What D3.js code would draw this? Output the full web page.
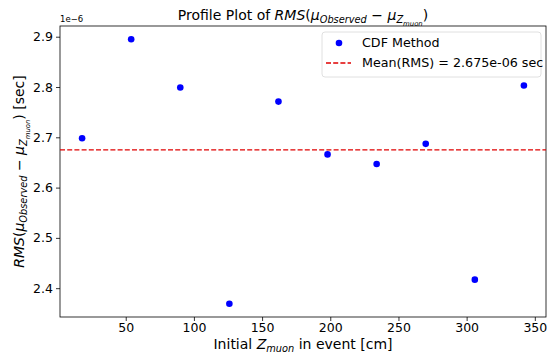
<!DOCTYPE html>
<html>
<head>
<meta charset="utf-8">
<script src="https://cdn.jsdelivr.net/npm/d3@7"></script>
<style>
  body { margin: 0; background: #fff; }
  svg { font-family: "DejaVu Sans", sans-serif; }
</style>
</head>
<body>
<svg id="chart" width="552" height="354"></svg>
<script>
// bin centres along Z and the RMS per bin (units of 1e-6 s)
const zCenters = [18, 54, 90, 126, 162, 198, 234, 270, 306, 342];
const rmsValues = [2.698, 2.895, 2.799, 2.369, 2.771, 2.666, 2.647, 2.687, 2.417, 2.803];
const meanRms = 2.675;
const xTicks = [50, 100, 150, 200, 250, 300, 350];
const yTicks = [2.4, 2.5, 2.6, 2.7, 2.8, 2.9];
const legendLabels = ["CDF Method", "Mean(RMS) = 2.675e-06 sec"];

const svg = d3.select( "#chart" );
const m = { left: 60, right: 546, top: 26, bottom: 317 };

// matplotlib-like 5% margins
const pad = ( ext ) => { const s = ext[1] - ext[0]; return [ ext[0] - s * 0.05, ext[1] + s * 0.05 ]; };

const x = d3.scaleLinear().domain( pad( d3.extent( zCenters ) ) ).range( [ m.left, m.right ] );
const y = d3.scaleLinear().domain( pad( d3.extent( rmsValues ) ) ).range( [ m.bottom, m.top ] );

// small helper for mathtext-ish labels: segments of [text, italic, level]
const richText = ( sel, parts, size ) => {
    let off = 0;
    parts.forEach( ( [ t, it, lvl ] ) => {
        const fs = size * Math.pow( 0.7, lvl || 0 );
        const target = ( lvl || 0 ) * size * 0.22;
        sel.append( "tspan" )
            .attr( "dy", target - off )
            .attr( "font-size", fs )
            .attr( "font-style", it ? "italic" : "normal" )
            .text( t );
        off = target;
    } );
    if ( off ) sel.append( "tspan" ).attr( "dy", -off ).text( "" );
};

const xAxis = svg.append( "g" )
    .attr( "transform", `translate(0,${m.bottom})` )
    .call( d3.axisBottom( x ).tickValues( xTicks ).tickSize( 4 ).tickPadding( 2 ) );
const yAxis = svg.append( "g" )
    .attr( "transform", `translate(${m.left},0)` )
    .call( d3.axisLeft( y ).tickValues( yTicks ).tickFormat( d3.format( ".1f" ) ).tickSize( 4 ).tickPadding( 3 ) );

[ xAxis, yAxis ].forEach( g => {
    g.select( ".domain" ).remove();
    g.selectAll( "text" ).attr( "font-size", 12.5 ).attr( "fill", "#000" ).attr( "font-family", "DejaVu Sans" );
    g.selectAll( "line" ).attr( "stroke", "#000" ).attr( "stroke-width", 0.8 );
} );

// frame
svg.append( "rect" )
    .attr( "x", m.left ).attr( "y", m.top )
    .attr( "width", m.right - m.left ).attr( "height", m.bottom - m.top )
    .attr( "fill", "none" ).attr( "stroke", "#000" ).attr( "stroke-width", 0.8 );

// mean line
svg.append( "line" )
    .attr( "x1", m.left ).attr( "x2", m.right )
    .attr( "y1", y( meanRms ) ).attr( "y2", y( meanRms ) )
    .attr( "stroke", "#e00000" ).attr( "stroke-width", 1.3 )
    .attr( "stroke-dasharray", "5,2.2" );

// points
svg.append( "g" ).selectAll( "circle" )
    .data( zCenters )
    .enter()
    .append( "circle" )
    .attr( "cx", d => x( d ) )
    .attr( "cy", ( d, i ) => y( rmsValues[i] ) )
    .attr( "r", 3.3 )
    .attr( "fill", "#0000ff" );

// offset text
svg.append( "text" )
    .attr( "x", m.left ).attr( "y", 22 )
    .attr( "font-size", 8.5 )
    .text( "1e\u22126" );

// title
const title = svg.append( "text" )
    .attr( "x", ( m.left + m.right ) / 2 ).attr( "y", 20 )
    .attr( "text-anchor", "middle" );
richText( title, [
    [ "Profile Plot of ", false, 0 ], [ "RMS", true, 0 ], [ "(", false, 0 ], [ "\u03bc", true, 0 ],
    [ "Observed", true, 1 ], [ " \u2212 ", false, 0 ], [ "\u03bc", true, 0 ], [ "Z", true, 1 ],
    [ "muon", true, 2 ], [ ")", false, 0 ]
], 14 );

// x label
const xl = svg.append( "text" )
    .attr( "x", ( m.left + m.right ) / 2 ).attr( "y", 349 )
    .attr( "text-anchor", "middle" );
richText( xl, [ [ "Initial ", false, 0 ], [ "Z", true, 0 ], [ "muon", true, 1 ], [ " in event [cm]", false, 0 ] ], 14 );

// y label
const yl = svg.append( "text" )
    .attr( "transform", `translate(24,${( m.top + m.bottom ) / 2}) rotate(-90)` )
    .attr( "text-anchor", "middle" );
richText( yl, [
    [ "RMS", true, 0 ], [ "(", false, 0 ], [ "\u03bc", true, 0 ], [ "Observed", true, 1 ],
    [ " \u2212 ", false, 0 ], [ "\u03bc", true, 0 ], [ "Z", true, 1 ], [ "muon", true, 2 ],
    [ ")", false, 0 ], [ " [sec]", false, 0 ]
], 14 );

// legend
const lg = svg.append( "g" ).attr( "transform", "translate(322,32)" );
lg.append( "rect" )
    .attr( "width", 219 ).attr( "height", 45 ).attr( "rx", 3 )
    .attr( "fill", "#fff" ).attr( "fill-opacity", 0.8 )
    .attr( "stroke", "#d8d8d8" ).attr( "stroke-width", 0.8 );
lg.append( "circle" ).attr( "cx", 17 ).attr( "cy", 11 ).attr( "r", 3.3 ).attr( "fill", "#0000ff" );
lg.append( "line" )
    .attr( "x1", 4 ).attr( "x2", 29 ).attr( "y1", 31 ).attr( "y2", 31 )
    .attr( "stroke", "#e00000" ).attr( "stroke-width", 1.3 ).attr( "stroke-dasharray", "5,2.2" );
lg.selectAll( "text.lab" )
    .data( legendLabels )
    .enter()
    .append( "text" )
    .attr( "class", "lab" )
    .attr( "x", 40 )
    .attr( "y", ( d, i ) => 15 + i * 20 )
    .attr( "font-size", 12.7 )
    .text( d => d );
</script>
</body>
</html>
